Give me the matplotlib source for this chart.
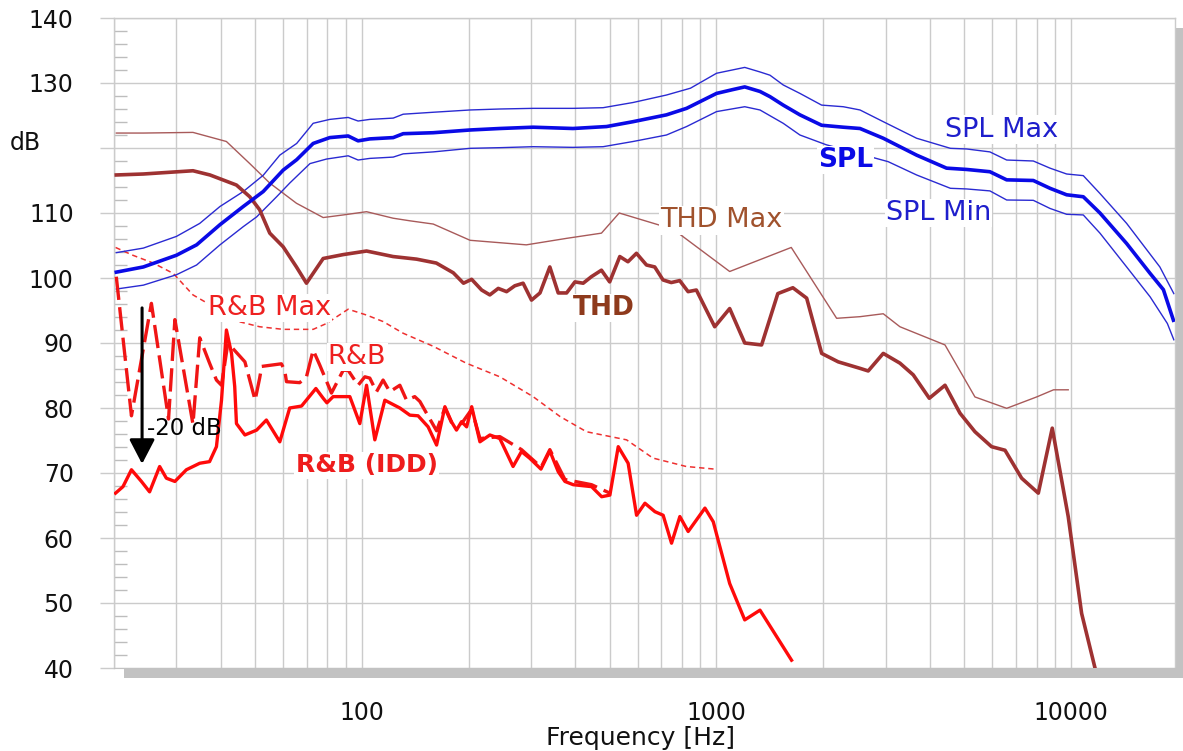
import matplotlib
matplotlib.use("Agg")
import matplotlib.pyplot as plt
from matplotlib.ticker import MultipleLocator, NullFormatter, LogLocator
from matplotlib.patches import Rectangle

plt.rcParams['font.family'] = ['DejaVu Sans']

# ---------------- data ----------------
spl_f = [20.3, 24.2, 30.0, 34.2, 39.8, 46.3, 52.7, 60.0, 65.5, 72.9, 81.2, 91.5, 97.6, 105.3, 122.6,
         130.8, 158.9, 201.8, 245, 304, 394, 490, 582, 723, 824, 1001, 1115, 1202, 1327, 1416, 1543,
         1720, 1980, 2279, 2541, 2955, 3670, 4457, 5078, 5906, 6586, 7830, 8727, 9723, 10832, 12070,
         14355, 16720, 18225, 19450]
spl_db = [100.9, 101.7, 103.5, 105.1, 108.2, 111.0, 113.3, 116.6, 118.2, 120.7, 121.6, 121.85, 121.1, 121.4, 121.6,
          122.2, 122.35, 122.77, 123.0, 123.2, 123.0, 123.3, 124.05, 125.1, 126.1, 128.4, 129.0, 129.4, 128.7, 127.9, 126.6,
          125.1, 123.5, 123.2, 123.0, 121.5, 118.9, 116.9, 116.7, 116.35, 115.1, 115.0, 113.8, 112.8, 112.5, 110.0,
          105.3, 100.7, 98.2, 93.5]

splmax_f = [20.3, 24.2, 30.0, 34.9, 39.8, 46.3, 52.7, 58.7, 65.5, 72.9, 81.2, 91.5, 97.6, 105.3, 122.6, 130.8,
            159, 202, 245, 304, 394, 479, 582, 723, 845, 1001, 1202, 1327, 1416, 1543, 1720, 1980, 2279,
            2541, 2955, 3670, 4570, 5078, 5906, 6586, 7830, 8727, 9723, 10832, 12070, 14355, 17810, 19500]
splmax_db = [103.9, 104.6, 106.4, 108.4, 111.0, 113.3, 115.8, 118.9, 120.7, 123.8, 124.4, 124.7, 124.15, 124.4, 124.6, 125.2,
             125.5, 125.85, 126.0, 126.1, 126.1, 126.2, 127.0, 128.15, 129.2, 131.5, 132.4, 131.7, 131.2, 129.7, 128.4, 126.6, 126.35,
             125.85, 124.05, 121.5, 119.95, 119.85, 119.4, 118.15, 118.0, 116.9, 116.0, 115.75, 113.0, 108.4, 101.7, 97.6]

splmin_f = [20.3, 24.2, 30.0, 34.2, 39.8, 46.3, 50.5, 57.5, 62.6, 71.4, 79.5, 91.5, 97.6, 105.3, 122.6, 130.8,
            159, 202, 245, 304, 394, 479, 582, 723, 824, 1001, 1202, 1327, 1543, 1720, 2040, 3050, 3670,
            4570, 5078, 5906, 6586, 7830, 8727, 9723, 10832, 12070, 14355, 16720, 18700, 19500]
splmin_db = [98.3, 98.9, 100.5, 102.0, 105.1, 107.9, 109.4, 112.5, 114.6, 117.6, 118.3, 118.8, 118.15, 118.4, 118.6, 119.1,
             119.4, 119.95, 120.05, 120.2, 120.1, 120.2, 121.0, 122.0, 123.3, 125.6, 126.35, 125.85, 123.8, 122.0, 120.5, 117.9, 115.85,
             113.8, 113.7, 113.4, 112.0, 111.95, 110.7, 109.8, 109.7, 106.9, 101.7, 97.1, 93.0, 90.5]

thd_f = [20.3, 24.2, 33.4, 37.3, 44.3, 48.3, 51.5, 55.0, 60.0, 65.4, 69.8, 77.8, 88.6, 103.1, 122.5,
         142.7, 162.2, 181.1, 193.5, 204.0, 217.7, 229.6, 242.5, 256, 270, 285, 301, 318, 339, 358,
         378, 399, 421, 444, 474, 500, 534, 563, 595, 635, 670, 707, 746, 788, 832, 878, 989, 1090,
         1202, 1341, 1490, 1643, 1797, 1981, 2206, 2541, 2680, 2955, 3293, 3590, 3985, 4413, 4864,
         5360, 5970, 6516, 7259, 8088, 8855, 9822, 10715, 11688]
thd_db = [115.85, 116.0, 116.5, 115.85, 114.3, 112.5, 110.5, 106.9, 104.8, 101.7, 99.2, 103.0, 103.6, 104.15, 103.3,
          102.9, 102.3, 100.8, 99.2, 99.8, 98.15, 97.4, 98.4, 97.9, 98.8, 99.2, 96.6, 97.7, 101.7, 97.7,
          97.7, 99.4, 99.2, 100.2, 101.2, 99.4, 103.3, 102.5, 103.8, 102.0, 101.7, 99.7, 99.3, 99.6, 97.9, 98.15, 92.5, 95.3,
          90.0, 89.7, 97.6, 98.5, 96.9, 88.4, 87.1, 86.1, 85.7, 88.4, 86.9, 85.1, 81.5, 83.5, 79.2,
          76.35, 74.05, 73.5, 69.2, 66.9, 76.9, 63.3, 48.4, 40.0]

thdmax_f = [20.3, 24.2, 33.4, 41.5, 48.3, 55.0, 65.4, 77.8, 88.6, 103.1, 122.5, 136.6, 159, 202, 291, 378,
            474, 532, 755, 1090, 1626, 2183, 2541, 2955, 3293, 4413, 5360, 6586, 8000, 8930, 9822]
thdmax_db = [122.3, 122.3, 122.4, 121.0, 117.6, 114.6, 111.5, 109.3, 109.7, 110.2, 109.2, 108.8, 108.3, 105.8, 105.1, 106.1,
             106.9, 110.0, 107.5, 101.0, 104.7, 93.8, 94.05, 94.5, 92.5, 89.7, 81.7, 79.95, 81.7, 82.8, 82.8]

rbmax_f = [20.2, 22.6, 25.8, 29.4, 33.4, 38.1, 43.4, 51.5, 60.0, 72.9, 79.5, 91.5, 103.1, 114.8, 130.8,
           158.9, 197, 245, 304, 362, 430, 558, 662, 822, 989]
rbmax_db = [104.7, 103.5, 102.3, 100.7, 97.4, 95.6, 93.5, 92.5, 92.1, 92.1, 93.0, 95.2, 94.3, 93.3, 91.5,
            89.5, 86.9, 84.8, 81.75, 78.7, 76.35, 75.1, 72.3, 71.0, 70.6]

rb_f = [20.3, 22.4, 25.5, 28.5, 29.7, 33.4, 34.9, 37.2, 38.9, 40.2, 41.9, 46.8, 50.0, 51.5, 52.2, 59.3,
        60.6, 61.3, 66.8, 69.8, 72.9, 76.1, 82.1, 83.9, 88.6, 91.5, 97.6, 102.0, 105.3, 110.0, 114.8,
        119.9, 128.0, 133.7, 141.0, 145.8, 152.2, 162.5, 171.5, 178.9, 191.1, 204.1, 215.3, 245.0,
        282.0, 320.4, 339.0, 373.9, 444.6, 500.7]
rb_db = [100.2, 78.8, 96.1, 78.3, 93.6, 77.5, 90.8, 86.9, 84.3, 83.5, 90.0, 87.1, 81.2, 84.6, 86.4, 86.8,
         85.8, 84.05, 83.9, 84.8, 88.9, 86.6, 82.3, 83.3, 85.8, 85.8, 83.5, 84.8, 84.6, 82.5, 84.3,
         82.5, 83.5, 81.2, 81.75, 81.0, 79.2, 76.5, 80.0, 77.8, 77.6, 79.8, 75.3, 75.6,
         73.6, 70.9, 73.6, 69.0, 68.2, 66.9]

idd_f = [20.2, 21.2, 22.4, 23.9, 25.2, 26.9, 28.1, 29.7, 32.0, 34.9, 37.2, 38.9, 40.2, 41.5, 42.9, 43.8,
         44.3, 46.8, 50.5, 53.8, 58.7, 62.6, 67.6, 74.2, 77.8, 79.7, 83.0, 92.5, 98.7, 103.1, 108.8,
         116.1, 128.0, 136.6, 144.1, 153.8, 162.5, 171.5, 178.9, 184.9, 191.1, 197.5, 204.1, 215.3,
         229.7, 245.0, 267.0, 282.0, 297.8, 320.0, 339.0, 358.0, 373.9, 394.6, 444.6, 474.6, 500.7,
         528.6, 563.7, 595.4, 628.7, 670.8, 707.6, 747.2, 788.7, 832.5, 928.2, 979.7, 1090, 1202, 1327, 1629]
idd_db = [66.9, 67.9, 70.5, 68.7, 67.1, 71.0, 69.2, 68.7, 70.5, 71.5, 71.75, 74.05, 81.2, 92.0, 88.4, 83.3,
          77.6, 75.85, 76.6, 78.15, 74.8, 80.0, 80.3, 83.0, 81.5, 80.8, 81.75, 81.75, 77.6, 83.5, 75.1,
          81.2, 80.0, 78.9, 78.8, 77.1, 74.3, 80.2, 77.9, 76.6, 77.9, 77.1, 80.2, 74.8,
          75.85, 75.3, 71.0, 73.3, 72.25, 70.6, 73.4, 70.2, 68.7, 68.2, 67.9, 66.35, 66.6,
          74.05, 71.5, 63.5, 65.35, 64.05, 63.5, 59.2, 63.3, 61.0, 64.6, 62.5, 53.0, 47.4, 48.9, 41.2]

y_ticks = [40, 50, 60, 70, 80, 90, 100, 110, 120, 130, 140]
y_tick_labels = ['40', '50', '60', '70', '80', '90', '100', '110', '', '130', '140']
x_ticks = [100, 1000, 10000]
x_tick_labels = ['100', '1000', '10000']

# ---------------- figure ----------------
W, H = 1183, 751
fig = plt.figure(figsize=(W / 100, H / 100), dpi=100)


def fx(px):
    return px / W


def fy(py):
    return 1 - py / H


shadow = Rectangle((fx(124), fy(678)), fx(1183) - fx(124), fy(28) - fy(678),
                   transform=fig.transFigure, facecolor='#C2C2C2', edgecolor='none', zorder=-5)
fig.patches.append(shadow)

ax = fig.add_axes([fx(114), fy(668), fx(1175) - fx(114), fy(18) - fy(668)])
ax.set_facecolor('white')
ax.set_xscale('log')
ax.set_xlim(20, 19650)
ax.set_ylim(40, 140)
ax.set_axisbelow(True)

ax.set_xticks(x_ticks)
ax.set_xticklabels(x_tick_labels)
ax.xaxis.set_minor_locator(LogLocator(base=10, subs=range(2, 10)))
ax.xaxis.set_minor_formatter(NullFormatter())
ax.set_yticks(y_ticks)
ax.set_yticklabels(y_tick_labels)
ax.yaxis.set_minor_locator(MultipleLocator(2))

grid_c = '#CBCBCB'
ax.grid(which='both', axis='x', color=grid_c, lw=1.0)
ax.grid(which='major', axis='y', color=grid_c, lw=1.0)
ax.tick_params(axis='y', which='major', direction='out', length=10, width=1, color=grid_c,
               labelsize=17, pad=19, labelcolor='#111111')
ax.tick_params(axis='y', which='minor', direction='in', length=9, width=1, color='#BDBDBD')
ax.tick_params(axis='x', which='both', length=0, labelsize=17, pad=24, labelcolor='#111111')
for s in ['top', 'left', 'right']:
    ax.spines[s].set_color(grid_c)
    ax.spines[s].set_linewidth(1.0)
ax.spines['bottom'].set_color('#C2C2C2')

# ---------------- curves ----------------
ax.plot(thdmax_f, thdmax_db, color='#A85A5A', lw=1.0, zorder=2)
ax.plot(rbmax_f, rbmax_db, color='#EE3030', lw=1.1, ls=(0, (3.5, 2.5)), zorder=2)
ax.plot(splmax_f, splmax_db, color='#2A2AD2', lw=1.0, zorder=2)
ax.plot(splmin_f, splmin_db, color='#2A2AD2', lw=1.0, zorder=2)
ax.plot(rb_f, rb_db, color='#F01515', lw=2.4, ls=(0, (7, 2.2)), zorder=3)
ax.plot(idd_f, idd_db, color='#FF0A0A', lw=2.4, zorder=3)
ax.plot(thd_f, thd_db, color='#9E3232', lw=2.6, zorder=3)
ax.plot(spl_f, spl_db, color='#0A0AE6', lw=2.6, zorder=4)

# ---------------- arrow ----------------
ax.annotate('', xy=(24.0, 71.4), xytext=(24.0, 95.4),
            arrowprops=dict(arrowstyle='-|>,head_length=0.5,head_width=0.26',
                            lw=2.2, color='black', mutation_scale=30, shrinkA=0, shrinkB=0),
            zorder=6)

# ---------------- labels ----------------
bb = dict(facecolor='white', edgecolor='none', pad=1.0)
lab = dict(ha='left', va='center', zorder=7, bbox=bb)
ax.text(4413, 122.8, 'SPL Max', color='#1E1ECC', fontsize=19.5, **lab)
ax.text(1934, 118.15, 'SPL', color='#0A0AE6', fontsize=19, fontweight='bold', **lab)
ax.text(3006, 110.0, 'SPL Min', color='#1E1ECC', fontsize=19.5, **lab)
ax.text(693, 108.9, 'THD Max', color='#A0522D', fontsize=19.5, **lab)
ax.text(393.6, 95.4, 'THD', color='#8E3A1C', fontsize=19, fontweight='bold', **lab)
ax.text(36.8, 95.4, 'R&B Max', color='#EE2020', fontsize=19.5, **lab)
ax.text(80.2, 87.85, 'R&B', color='#EE2020', fontsize=19.5, **lab)
ax.text(24.7, 76.9, '-20 dB', color='black', fontsize=16.5, ha='left', va='center', zorder=7)
ax.text(65.1, 71.2, 'R&B (IDD)', color='#EE1C1C', fontsize=18, fontweight='bold', **lab)

fig.text(fx(10), fy(143), 'dB', fontsize=17, ha='left', va='center', color='#111111')
fig.text(fx(640), fy(738), 'Frequency [Hz]', fontsize=18, ha='center', va='center', color='#111111')

fig.savefig('out.png', dpi=100)
